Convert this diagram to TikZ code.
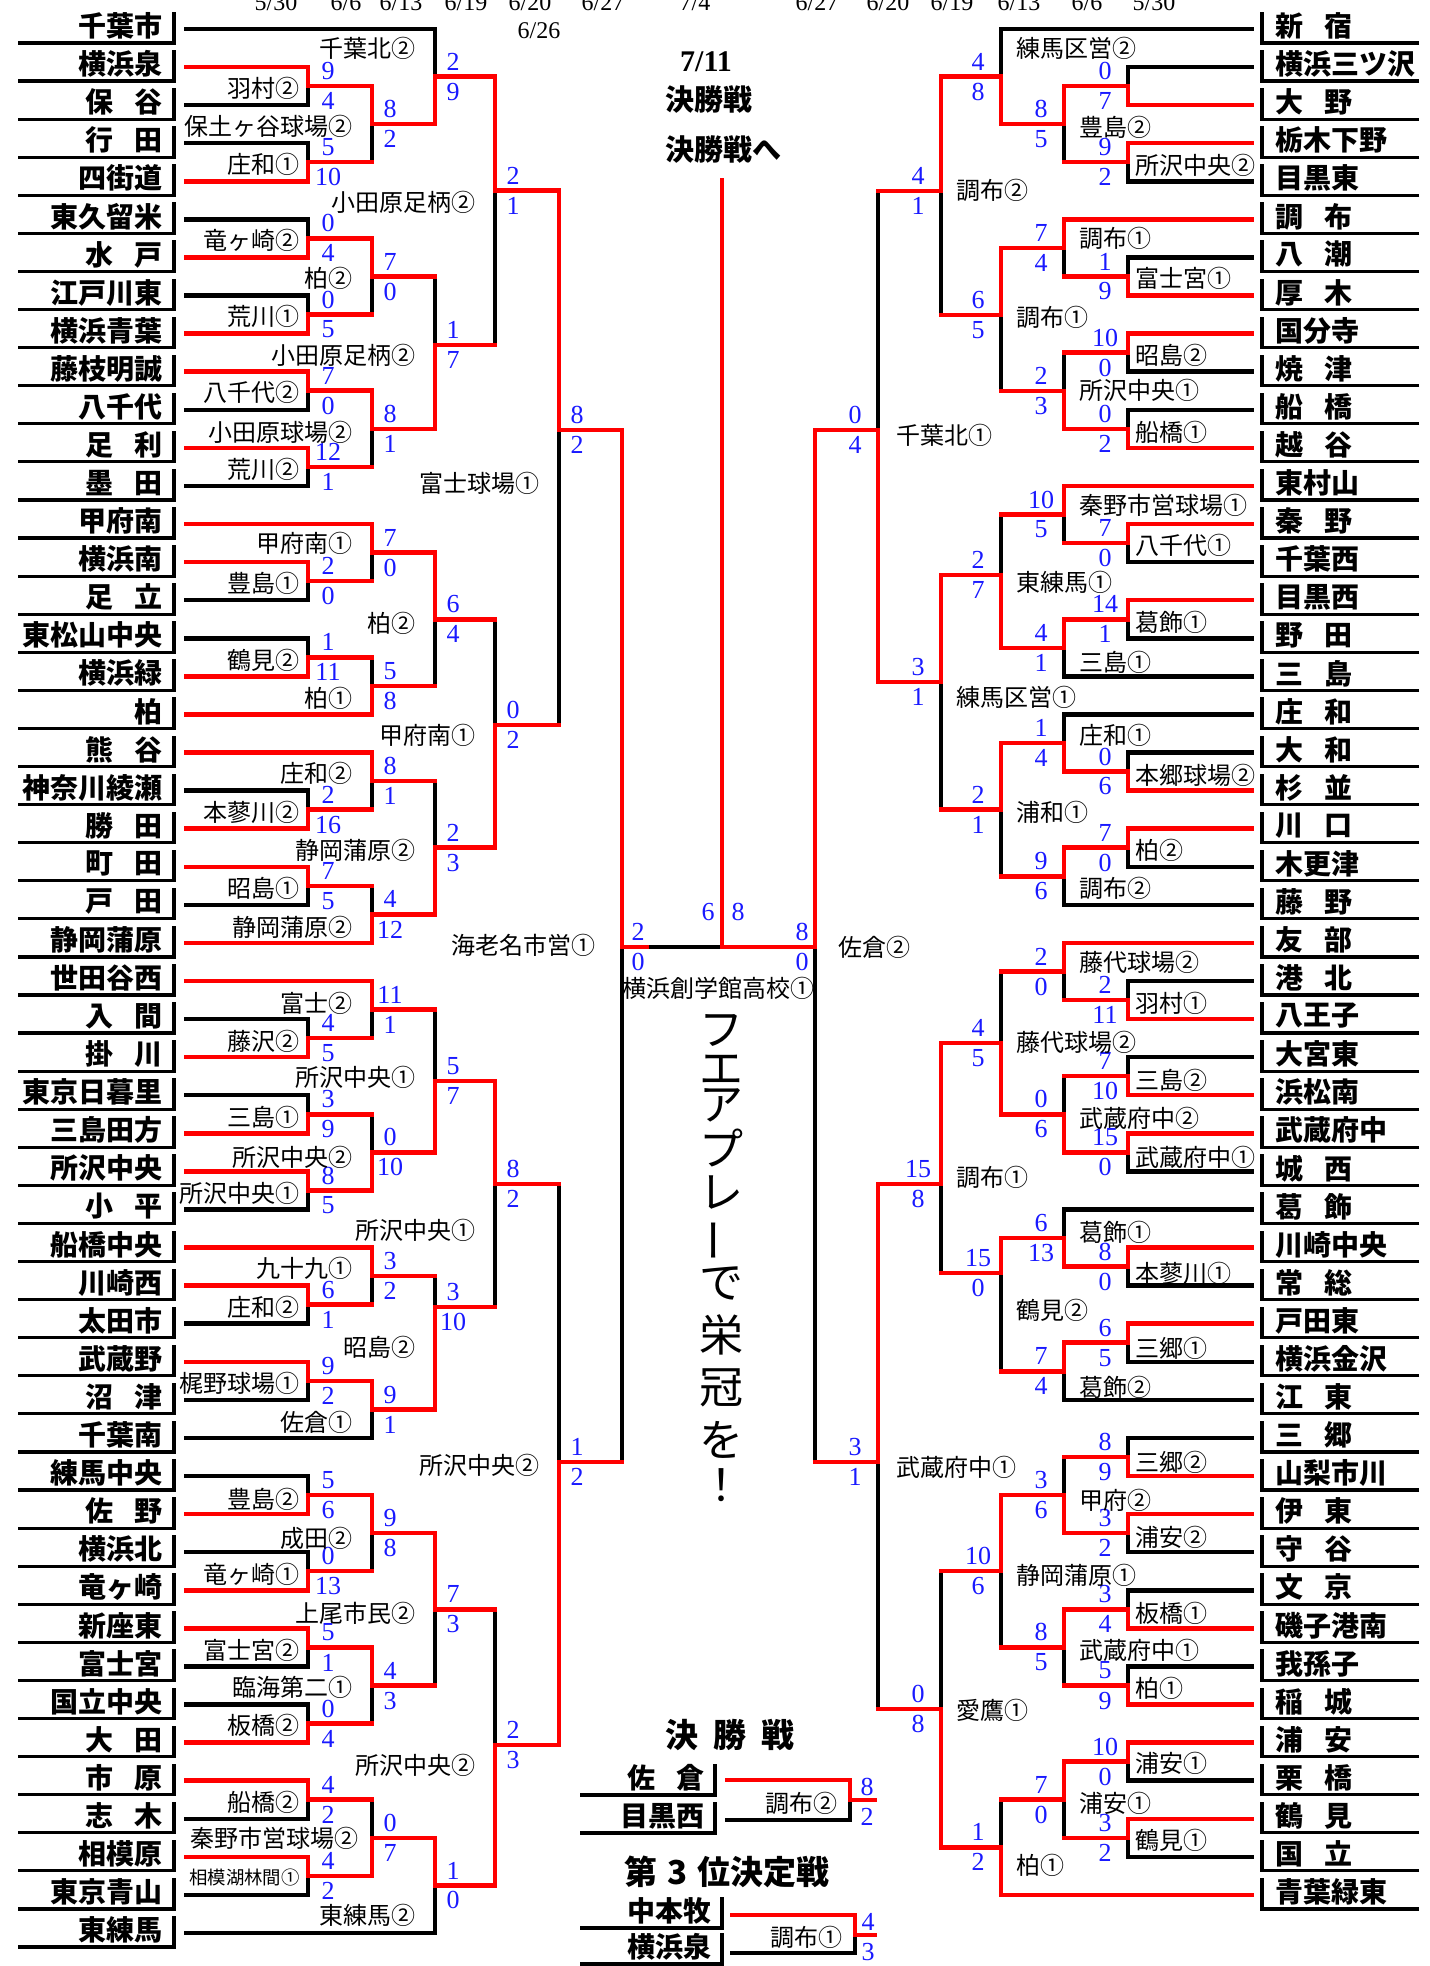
\documentclass[tikz,border=0pt]{standalone}
\usepackage{fontspec}
\newfontfamily\jp{Noto Sans CJK JP}
\newfontfamily\sr{Liberation Serif}
\definecolor{scblue}{RGB}{25,25,255}
\newcommand\gap{\hspace{0.75em}}
\def\kw{black}
\pgfkeys{/br/.is family,/br/.cd,
  v/.store in=\bV, ya/.store in=\bYa, yb/.store in=\bYb, yo/.store in=\bYo,
  xa/.store in=\bXa, xb/.store in=\bXb, ca/.store in=\bCa, cb/.store in=\bCb,
  w/.store in=\bW, sa/.store in=\bSa, sb/.store in=\bSb, lab/.store in=\bL,
  ly/.store in=\bLy, ld/.store in=\bLd, sx/.store in=\bSx, lf/.store in=\bLf,
  la/.store in=\bLa}
\newcommand\Mt[2]{%
  \pgfkeys{/br/.cd,ca=red,cb=red,lab={},lf=lab,#2}%
  \coordinate (#1a0) at (\bXa,\bYa);
  \coordinate (#1a) at (\bV,\bYa);
  \coordinate (#1b0) at (\bXb,\bYb);
  \coordinate (#1b) at (\bV,\bYb);
  \coordinate (#1o) at (\bV,\bYo);
  \ifx\bCa\kw\draw[ln,black] (#1a0) -- (#1a);\fi
  \ifx\bCb\kw\draw[ln,black] (#1b0) -- (#1b);\fi
  \if a\bW\draw[ln,black] (#1b) -- (#1o);\else\draw[ln,black] (#1a) -- (#1o);\fi
  \ifx\bCa\kw\else\draw[ln,red] (#1a0) -- (#1a);\fi
  \ifx\bCb\kw\else\draw[ln,red] (#1b0) -- (#1b);\fi
  \if a\bW\draw[ln,red] (#1a) -- (#1o);\else\draw[ln,red] (#1b) -- (#1o);\fi
  \node[sc] (#1sa) at ({\bV+\bSx},{\bYo-15}) {\bSa};
  \node[sc] (#1sb) at ({\bV+\bSx},{\bYo+15}) {\bSb};
  \ifx\bL\empty\else\node[\bLf,anchor=\bLa] (#1l) at ({\bV+\bLd},\bLy) {\bL};\fi
}
\newcommand\ML[2]{\Mt{#1}{sx=18,ld=-19,la=east,#2}}
\newcommand\MLa[2]{\Mt{#1}{sx=20,ld=-8,la=east,xa=186,xb=186,v=308,#2}}
\newcommand\MR[2]{\Mt{#1}{sx=-23,ld=15,la=west,#2}}
\newcommand\MRa[2]{\Mt{#1}{sx=-23,ld=7,la=west,xa=1252,xb=1252,v=1128,#2}}
\tikzset{
  ln/.style={line width=2.25pt,line cap=rect},
  bx/.style={line width=1.6pt},
  tm/.style={font=\jp\bfseries\fontsize{14pt}{14pt}\selectfont,inner sep=0pt},
  lab/.style={font=\jp\fontsize{12pt}{12pt}\selectfont,inner sep=0pt},
  labs/.style={font=\jp\fontsize{9.2pt}{9.2pt}\selectfont,inner sep=0pt},
  sc/.style={font=\sr\fontsize{13pt}{13pt}\selectfont,text=scblue,inner sep=0pt},
  dt/.style={font=\sr\fontsize{12pt}{12pt}\selectfont,inner sep=0pt,anchor=base},
  big/.style={font=\jp\bfseries\fontsize{14.5pt}{14.5pt}\selectfont,inner sep=0pt},
  ttl/.style={font=\jp\bfseries\fontsize{16.5pt}{16.5pt}\selectfont,inner sep=0pt},
  vt/.style={font=\jp\fontsize{22pt}{22pt}\selectfont,inner sep=0pt},
}
\begin{document}
\begin{tikzpicture}[x=0.5pt,y=-0.5pt]
\useasboundingbox[fill=white] (0,0) rectangle (1430,1966);

% ---- dates (cut off at the top edge, as in the reference)
\node[dt] (dA) at (276,10) {5/30};
\node[dt] (dB) at (346,10) {6/6};
\node[dt] (dC) at (401,10) {6/13};
\node[dt] (dD) at (466,10) {6/19};
\node[dt] (dE) at (530,10) {6/20};
\node[dt] (dF) at (603,10) {6/27};
\node[dt] (dG) at (695,10) {7/4};
\node[dt] (dH) at (817,10) {6/27};
\node[dt] (dI) at (888,10) {6/20};
\node[dt] (dJ) at (952,10) {6/19};
\node[dt] (dK) at (1019,10) {6/13};
\node[dt] (dL) at (1087,10) {6/6};
\node[dt] (dM) at (1154,10) {5/30};
\node[dt] (dN) at (539,38) {6/26};

% ---- left teams
\foreach \nm [count=\i from 0] in {千葉市,横浜泉,保\gap 谷,行\gap 田,四街道,東久留米,水\gap 戸,江戸川東,横浜青葉,藤枝明誠,八千代,足\gap 利,墨\gap 田,甲府南,横浜南,足\gap 立,東松山中央,横浜緑,柏,熊\gap 谷,神奈川綾瀬,勝\gap 田,町\gap 田,戸\gap 田,静岡蒲原,世田谷西,入\gap 間,掛\gap 川,東京日暮里,三島田方,所沢中央,小\gap 平,船橋中央,川崎西,太田市,武蔵野,沼\gap 津,千葉南,練馬中央,佐\gap 野,横浜北,竜ヶ崎,新座東,富士宮,国立中央,大\gap 田,市\gap 原,志\gap 木,相模原,東京青山,東練馬}{
  \pgfmathsetmacro\yy{43+38.08*\i}
  \coordinate (lu\i) at (18,\yy);
  \coordinate (lc\i) at (174,\yy);
  \coordinate (lt\i) at (174,\yy-31);
  \draw[bx] (lu\i) -- (lc\i) -- (lt\i);
  \node[tm,anchor=east] (ln\i) at (163,\yy-17) {\nm};
}
% ---- right teams
\foreach \nm [count=\i from 0] in {新\gap 宿,横浜三ツ沢,大\gap 野,栃木下野,目黒東,調\gap 布,八\gap 潮,厚\gap 木,国分寺,焼\gap 津,船\gap 橋,越\gap 谷,東村山,秦\gap 野,千葉西,目黒西,野\gap 田,三\gap 島,庄\gap 和,大\gap 和,杉\gap 並,川\gap 口,木更津,藤\gap 野,友\gap 部,港\gap 北,八王子,大宮東,浜松南,武蔵府中,城\gap 西,葛\gap 飾,川崎中央,常\gap 総,戸田東,横浜金沢,江\gap 東,三\gap 郷,山梨市川,伊\gap 東,守\gap 谷,文\gap 京,磯子港南,我孫子,稲\gap 城,浦\gap 安,栗\gap 橋,鶴\gap 見,国\gap 立,青葉緑東}{
  \pgfmathsetmacro\yy{43+38.08*\i}
  \coordinate (ru\i) at (1419,\yy);
  \coordinate (rc\i) at (1262,\yy);
  \coordinate (rt\i) at (1262,\yy-31);
  \draw[bx] (ru\i) -- (rc\i) -- (rt\i);
  \node[tm,anchor=west] (rn\i) at (1275,\yy-17) {\nm};
}

% ---- left bracket
\MLa{L01}{ya=67.1,ca=red,yb=105.2,cb=black,yo=86.2,w=a,sa=9,sb=4,lab=羽村②,ly=88}
\MLa{L02}{ya=143.2,ca=black,yb=181.3,cb=red,yo=162.2,w=b,sa=5,sb=10,lab=庄和①,ly=164}
\ML{L03}{v=372,xa=308,xb=308,ya=86.2,yb=162.2,yo=124.2,w=a,sa=8,sb=2,lab=保土ヶ谷球場②,ly=126}
\ML{L04}{v=435,xa=186,ya=29,ca=black,xb=372,yb=124.2,yo=76.6,w=b,sa=2,sb=9,lab=千葉北②,ly=48}
\MLa{L05}{ya=219.4,ca=black,yb=257.5,cb=red,yo=238.4,w=b,sa=0,sb=4,lab=竜ヶ崎②,ly=240}
\MLa{L06}{ya=295.6,ca=black,yb=333.6,cb=red,yo=314.6,w=b,sa=0,sb=5,lab=荒川①,ly=316}
\ML{L07}{v=372,xa=308,xb=308,ya=238.4,yb=314.6,yo=276.5,w=a,sa=7,sb=0,lab=柏②,ly=278}
\MLa{L08}{ya=371.7,ca=red,yb=409.8,cb=black,yo=390.7,w=a,sa=7,sb=0,lab=八千代②,ly=392}
\MLa{L09}{ya=447.9,ca=red,yb=486,cb=black,yo=467,w=a,sa=12,sb=1,lab=荒川②,ly=469}
\ML{L10}{v=372,xa=308,xb=308,ya=390.7,yb=467,yo=428.9,w=a,sa=8,sb=1,lab=小田原球場②,ly=432}
\ML{L11}{v=435,xa=372,xb=372,ya=276.5,yb=428.9,yo=345,w=b,sa=1,sb=7,lab=小田原足柄②,ly=355}
\ML{L12}{v=495,xa=435,xb=435,ya=76.6,yb=345,yo=190.7,w=a,sa=2,sb=1,lab=小田原足柄②,ly=202}
\MLa{L13}{ya=562.1,ca=red,yb=600.2,cb=black,yo=581.2,w=a,sa=2,sb=0,lab=豊島①,ly=583}
\ML{L14}{v=372,xa=186,ya=524,ca=red,xb=308,yb=581.2,yo=552.6,w=a,sa=7,sb=0,lab=甲府南①,ly=543}
\MLa{L15}{ya=638.3,ca=black,yb=676.4,cb=red,yo=657.4,w=b,sa=1,sb=11,lab=鶴見②,ly=660}
\ML{L16}{v=372,xa=308,ya=657.4,xb=186,yb=714.4,cb=red,yo=685.9,w=b,sa=5,sb=8,lab=柏①,ly=698}
\ML{L17}{v=435,xa=372,xb=372,ya=552.6,yb=685.9,yo=619.3,w=a,sa=6,sb=4,lab=柏②,ly=623}
\MLa{L18}{ya=790.6,ca=black,yb=828.7,cb=red,yo=809.7,w=b,sa=2,sb=16,lab=本蓼川②,ly=812}
\ML{L19}{v=372,xa=186,ya=752.5,ca=red,xb=308,yb=809.7,yo=781.1,w=a,sa=8,sb=1,lab=庄和②,ly=773}
\MLa{L20}{ya=866.8,ca=red,yb=904.8,cb=black,yo=885.8,w=a,sa=7,sb=5,lab=昭島①,ly=888}
\ML{L21}{v=372,xa=308,ya=885.8,xb=186,yb=942.9,cb=red,yo=914.4,w=b,sa=4,sb=12,lab=静岡蒲原②,ly=927}
\ML{L22}{v=435,xa=372,xb=372,ya=781.1,yb=914.4,yo=847.7,w=b,sa=2,sb=3,lab=静岡蒲原②,ly=850}
\ML{L23}{v=495,xa=435,xb=435,ya=619.3,yb=847.7,yo=725,w=b,sa=0,sb=2,lab=甲府南①,ly=735}
\ML{L24}{v=559,xa=495,xb=495,ya=190.7,yb=725,yo=430,w=a,sa=8,sb=2,lab=富士球場①,ly=483}
\MLa{L25}{ya=1019.1,ca=black,yb=1057.2,cb=red,yo=1038.2,w=b,sa=4,sb=5,lab=藤沢②,ly=1041}
\ML{L26}{v=372,xa=186,ya=981,ca=red,xb=308,yb=1038.2,yo=1009.6,w=a,sa=11,sb=1,lab=富士②,ly=1003}
\MLa{L27}{ya=1095.2,ca=black,yb=1133.3,cb=red,yo=1114.3,w=b,sa=3,sb=9,lab=三島①,ly=1117}
\MLa{L28}{ya=1171.4,ca=red,yb=1209.5,cb=black,yo=1190.5,w=a,sa=8,sb=5,lab=所沢中央①,ly=1193}
\ML{L29}{v=372,xa=308,xb=308,ya=1114.3,yb=1190.5,yo=1152.4,w=b,sa=0,sb=10,lab=所沢中央②,ly=1157}
\ML{L30}{v=435,xa=372,xb=372,ya=1009.6,yb=1152.4,yo=1081,w=b,sa=5,sb=7,lab=所沢中央①,ly=1077}
\MLa{L31}{ya=1285.6,ca=red,yb=1323.7,cb=black,yo=1304.7,w=a,sa=6,sb=1,lab=庄和②,ly=1307}
\ML{L32}{v=372,xa=186,ya=1247.6,ca=red,xb=308,yb=1304.7,yo=1276.2,w=a,sa=3,sb=2,lab=九十九①,ly=1268}
\MLa{L33}{ya=1361.8,ca=red,yb=1399.9,cb=black,yo=1380.9,w=a,sa=9,sb=2,lab=梶野球場①,ly=1383}
\ML{L34}{v=372,xa=308,ya=1380.9,xb=186,yb=1438,cb=black,yo=1409.5,w=a,sa=9,sb=1,lab=佐倉①,ly=1422}
\ML{L35}{v=435,xa=372,xb=372,ya=1276.2,yb=1409.5,yo=1307,w=b,sa=3,sb=10,lab=昭島②,ly=1347}
\ML{L36}{v=495,xa=435,xb=435,ya=1081,yb=1307,yo=1184,w=a,sa=8,sb=2,lab=所沢中央①,ly=1230}
\MLa{L37}{ya=1476,ca=black,yb=1514.1,cb=red,yo=1495,w=b,sa=5,sb=6,lab=豊島②,ly=1499}
\MLa{L38}{ya=1552.2,ca=black,yb=1590.3,cb=red,yo=1571.2,w=b,sa=0,sb=13,lab=竜ヶ崎①,ly=1574}
\ML{L39}{v=372,xa=308,xb=308,ya=1495,yb=1571.2,yo=1533.1,w=a,sa=9,sb=8,lab=成田②,ly=1538}
\MLa{L40}{ya=1628.4,ca=red,yb=1666.4,cb=black,yo=1647.4,w=a,sa=5,sb=1,lab=富士宮②,ly=1650}
\MLa{L41}{ya=1704.5,ca=black,yb=1742.6,cb=red,yo=1723.6,w=b,sa=0,sb=4,lab=板橋②,ly=1725}
\ML{L42}{v=372,xa=308,xb=308,ya=1647.4,yb=1723.6,yo=1685.5,w=a,sa=4,sb=3,lab=臨海第二①,ly=1687}
\ML{L43}{v=435,xa=372,xb=372,ya=1533.1,yb=1685.5,yo=1609.3,w=a,sa=7,sb=3,lab=上尾市民②,ly=1613}
\MLa{L44}{ya=1780.7,ca=red,yb=1818.8,cb=black,yo=1799.7,w=a,sa=4,sb=2,lab=船橋②,ly=1802}
\MLa{L45}{ya=1856.8,ca=red,yb=1894.9,cb=black,yo=1875.9,w=a,sa=4,sb=2,lab=相模湖林間①,lf=labs,ly=1877}
\ML{L46}{v=372,xa=308,xb=308,ya=1799.7,yb=1875.9,yo=1837.8,w=b,sa=0,sb=7,lab=秦野市営球場②,ly=1838,ld=-13}
\ML{L47}{v=435,xa=372,ya=1837.8,xb=186,yb=1933,cb=black,yo=1885.4,w=a,sa=1,sb=0,lab=東練馬②,ly=1915}
\ML{L48}{v=495,xa=435,xb=435,ya=1609.3,yb=1885.4,yo=1745,w=b,sa=2,sb=3,lab=所沢中央②,ly=1765}
\ML{L49}{v=559,xa=495,xb=495,ya=1184,yb=1745,yo=1462,w=b,sa=1,sb=2,lab=所沢中央②,ly=1465}
\ML{L50}{v=622,xa=559,xb=559,ya=430,yb=1462,yo=947,w=a,sa=2,sb=0,lab=海老名市営①,ly=945,ld=-26,sx=16}

% ---- right bracket
\MRa{R01}{ya=67.1,ca=black,yb=105.2,cb=red,yo=86.2,w=b,sa=0,sb=7}
\MRa{R02}{ya=143.2,ca=red,yb=181.3,cb=black,yo=162.2,w=a,sa=9,sb=2,lab=所沢中央②,ly=165}
\MR{R03}{v=1064,xa=1128,xb=1128,ya=86.2,yb=162.2,yo=124.2,w=a,sa=8,sb=5,lab=豊島②,ly=127}
\MR{R04}{v=1001,xa=1252,ya=29,ca=black,xb=1064,yb=124.2,yo=76.6,w=b,sa=4,sb=8,lab=練馬区営②,ly=48}
\MRa{R05}{ya=257.5,ca=black,yb=295.6,cb=red,yo=276.5,w=b,sa=1,sb=9,lab=富士宮①,ly=278}
\MR{R06}{v=1064,xa=1252,ya=219.4,ca=red,xb=1128,yb=276.5,yo=248,w=a,sa=7,sb=4,lab=調布①,ly=238}
\MRa{R07}{ya=333.6,ca=red,yb=371.7,cb=black,yo=352.7,w=a,sa=10,sb=0,lab=昭島②,ly=355}
\MRa{R08}{ya=409.8,ca=black,yb=447.9,cb=red,yo=428.9,w=b,sa=0,sb=2,lab=船橋①,ly=432}
\MR{R09}{v=1064,xa=1128,xb=1128,ya=352.7,yb=428.9,yo=390.8,w=b,sa=2,sb=3,lab=所沢中央①,ly=390}
\MR{R10}{v=1001,xa=1064,xb=1064,ya=248,yb=390.8,yo=315,w=a,sa=6,sb=5,lab=調布①,ly=317}
\MR{R11}{v=941,xa=1001,xb=1001,ya=76.6,yb=315,yo=191,w=a,sa=4,sb=1,lab=調布②,ly=190}
\MRa{R12}{ya=524,ca=red,yb=562.1,cb=black,yo=543,w=a,sa=7,sb=0,lab=八千代①,ly=545}
\MR{R13}{v=1064,xa=1252,ya=486,ca=red,xb=1128,yb=543,yo=514.5,w=a,sa=10,sb=5,lab=秦野市営球場①,ly=505}
\MRa{R14}{ya=600.2,ca=red,yb=638.3,cb=black,yo=619.3,w=a,sa=14,sb=1,lab=葛飾①,ly=622}
\MR{R15}{v=1064,xa=1128,ya=619.3,xb=1252,yb=676.4,cb=black,yo=647.8,w=a,sa=4,sb=1,lab=三島①,ly=662}
\MR{R16}{v=1001,xa=1064,xb=1064,ya=514.5,yb=647.8,yo=575,w=b,sa=2,sb=7,lab=東練馬①,ly=582}
\MRa{R17}{ya=752.5,ca=black,yb=790.6,cb=red,yo=771.5,w=b,sa=0,sb=6,lab=本郷球場②,ly=775}
\MR{R18}{v=1064,xa=1252,ya=714.4,ca=black,xb=1128,yb=771.5,yo=743,w=b,sa=1,sb=4,lab=庄和①,ly=735}
\MRa{R19}{ya=828.7,ca=red,yb=866.8,cb=black,yo=847.7,w=a,sa=7,sb=0,lab=柏②,ly=850}
\MR{R20}{v=1064,xa=1128,ya=847.7,xb=1252,yb=904.8,cb=black,yo=876.3,w=a,sa=9,sb=6,lab=調布②,ly=888}
\MR{R21}{v=1001,xa=1064,xb=1064,ya=743,yb=876.3,yo=809.6,w=a,sa=2,sb=1,lab=浦和①,ly=812}
\MR{R22}{v=941,xa=1001,xb=1001,ya=575,yb=809.6,yo=682,w=a,sa=3,sb=1,lab=練馬区営①,ly=697}
\MR{R23}{v=878,xa=941,xb=941,ya=191,yb=682,yo=430,w=b,sa=0,sb=4,lab=千葉北①,ly=435,ld=18}
\MRa{R24}{ya=981,ca=black,yb=1019.1,cb=red,yo=1000,w=b,sa=2,sb=11,lab=羽村①,ly=1003}
\MR{R25}{v=1064,xa=1252,ya=942.9,ca=red,xb=1128,yb=1000,yo=971.5,w=a,sa=2,sb=0,lab=藤代球場②,ly=962}
\MRa{R26}{ya=1057.2,ca=black,yb=1095.2,cb=red,yo=1076.2,w=b,sa=7,sb=10,lab=三島②,ly=1080}
\MRa{R27}{ya=1133.3,ca=red,yb=1171.4,cb=black,yo=1152.3,w=a,sa=15,sb=0,lab=武蔵府中①,ly=1157}
\MR{R28}{v=1064,xa=1128,xb=1128,ya=1076.2,yb=1152.3,yo=1114.3,w=b,sa=0,sb=6,lab=武蔵府中②,ly=1118}
\MR{R29}{v=1001,xa=1064,xb=1064,ya=971.5,yb=1114.3,yo=1042.9,w=b,sa=4,sb=5,lab=藤代球場②,ly=1042}
\MRa{R30}{ya=1247.6,ca=red,yb=1285.6,cb=black,yo=1266.6,w=a,sa=8,sb=0,lab=本蓼川①,ly=1273}
\MR{R31}{v=1064,xa=1252,ya=1209.5,ca=black,xb=1128,yb=1266.6,yo=1238,w=b,sa=6,sb=13,lab=葛飾①,ly=1232}
\MRa{R32}{ya=1323.7,ca=red,yb=1361.8,cb=black,yo=1342.7,w=a,sa=6,sb=5,lab=三郷①,ly=1348}
\MR{R33}{v=1064,xa=1128,ya=1342.7,xb=1252,yb=1399.9,cb=black,yo=1371.3,w=a,sa=7,sb=4,lab=葛飾②,ly=1387}
\MR{R34}{v=1001,xa=1064,xb=1064,ya=1238,yb=1371.3,yo=1273,w=a,sa=15,sb=0,lab=鶴見②,ly=1310}
\MR{R35}{v=941,xa=1001,xb=1001,ya=1042.9,yb=1273,yo=1184,w=a,sa=15,sb=8,lab=調布①,ly=1177}
\MRa{R36}{ya=1438,ca=black,yb=1476,cb=red,yo=1457,w=b,sa=8,sb=9,lab=三郷②,ly=1462}
\MRa{R37}{ya=1514.1,ca=red,yb=1552.2,cb=black,yo=1533.1,w=a,sa=3,sb=2,lab=浦安②,ly=1537}
\MR{R38}{v=1064,xa=1128,xb=1128,ya=1457,yb=1533.1,yo=1495,w=b,sa=3,sb=6,lab=甲府②,ly=1500}
\MRa{R39}{ya=1590.3,ca=black,yb=1628.4,cb=red,yo=1609.3,w=b,sa=3,sb=4,lab=板橋①,ly=1613}
\MRa{R40}{ya=1666.4,ca=black,yb=1704.5,cb=red,yo=1685.5,w=b,sa=5,sb=9,lab=柏①,ly=1688}
\MR{R41}{v=1064,xa=1128,xb=1128,ya=1609.3,yb=1685.5,yo=1647.4,w=a,sa=8,sb=5,lab=武蔵府中①,ly=1650}
\MR{R42}{v=1001,xa=1064,xb=1064,ya=1495,yb=1647.4,yo=1571.2,w=a,sa=10,sb=6,lab=静岡蒲原①,ly=1575}
\MRa{R43}{ya=1742.6,ca=red,yb=1780.7,cb=black,yo=1761.6,w=a,sa=10,sb=0,lab=浦安①,ly=1763}
\MRa{R44}{ya=1818.8,ca=red,yb=1856.8,cb=black,yo=1837.8,w=a,sa=3,sb=2,lab=鶴見①,ly=1840}
\MR{R45}{v=1064,xa=1128,xb=1128,ya=1761.6,yb=1837.8,yo=1799.7,w=a,sa=7,sb=0,lab=浦安①,ly=1803}
\MR{R46}{v=1001,xa=1064,ya=1799.7,xb=1252,yb=1894.9,cb=red,yo=1847.3,w=b,sa=1,sb=2,lab=柏①,ly=1865}
\MR{R47}{v=941,xa=1001,xb=1001,ya=1571.2,yb=1847.3,yo=1709,w=b,sa=0,sb=8,lab=愛鷹①,ly=1710}
\MR{R48}{v=878,xa=941,xb=941,ya=1184,yb=1709,yo=1462,w=a,sa=3,sb=1,lab=武蔵府中①,ly=1467,ld=18}
\MR{R49}{v=815,xa=878,xb=878,ya=430,yb=1462,yo=947,w=a,sa=8,sb=0,lab=佐倉②,ly=947,ld=23,sx=-13}

% ---- final
\coordinate (Fm) at (647,947);
\coordinate (Fc) at (722,947);
\coordinate (Ft) at (722,180);
\draw[ln,black] (Fm) -- (Fc);
\draw[ln,red] (L50o) -- (Fm);
\draw[ln,red] (R49o) -- (Fc) -- (Ft);
\node[sc] (F6) at (708,912) {6};
\node[sc] (F8) at (738,912) {8};
\node[lab] (Fv) at (718,988) {横浜創学館高校①};
\node[font=\sr\bfseries\fontsize{15pt}{15pt}\selectfont,inner sep=0pt] (d711) at (706,62) {7/11};
\node[big,anchor=west] (ks1) at (665,100) {決勝戦};
\node[big,anchor=west] (ks2) at (665,150) {決勝戦へ};

% ---- vertical slogan
\foreach \c/\yy [count=\k] in {フ/1030,エ/1070,ア/1105,プ/1148,レ/1193,で/1283,栄/1335,冠/1388,を/1440,！/1485}
  {\node[vt] (vt\k) at (721,\yy) {\c};}
\node[vt,rotate=90] (vtb) at (721,1240) {ー};

% ---- bottom: final & 3rd place
\node[ttl] (t1) at (730,1735) {決\hspace{0.45em}勝\hspace{0.45em}戦};
\foreach \nm/\yy/\bxx [count=\k] in {佐\gap 倉/1795/715,目黒西/1833/715,中本牧/1928/722,横浜泉/1964/722}{
  \coordinate (fu\k) at (580,\yy);
  \coordinate (fc\k) at (\bxx,\yy);
  \coordinate (ft\k) at (\bxx,\yy-31);
  \draw[bx] (fu\k) -- (fc\k) -- (ft\k);
  \node[tm,anchor=east] (fn\k) at (\bxx-10,\yy-17) {\nm};
}
\node[ttl] (t2) at (727,1872) {第\hspace{0.3em}3\hspace{0.3em}位決定戦};
\coordinate (k1a0) at (727,1780); \coordinate (k1a) at (850,1780);
\coordinate (k1b0) at (727,1820); \coordinate (k1b) at (850,1820);
\coordinate (k1o) at (850,1800); \coordinate (k1e) at (875,1800);
\draw[ln,black] (k1b0) -- (k1b) -- (k1o);
\draw[ln,red] (k1a0) -- (k1a) -- (k1o) -- (k1e);
\node[lab,anchor=east] (k1l) at (838,1803) {調布②};
\node[sc] (k1s) at (867,1787) {8};
\node[sc] (k1t) at (867,1817) {2};
\coordinate (k2a0) at (732,1915); \coordinate (k2a) at (855,1915);
\coordinate (k2b0) at (732,1953); \coordinate (k2b) at (855,1953);
\coordinate (k2o) at (855,1935); \coordinate (k2e) at (875,1935);
\draw[ln,black] (k2b0) -- (k2b) -- (k2o);
\draw[ln,red] (k2a0) -- (k2a) -- (k2o) -- (k2e);
\node[lab,anchor=east] (k2l) at (843,1937) {調布①};
\node[sc] (k2s) at (868,1922) {4};
\node[sc] (k2t) at (868,1952) {3};
\end{tikzpicture}
\end{document}
